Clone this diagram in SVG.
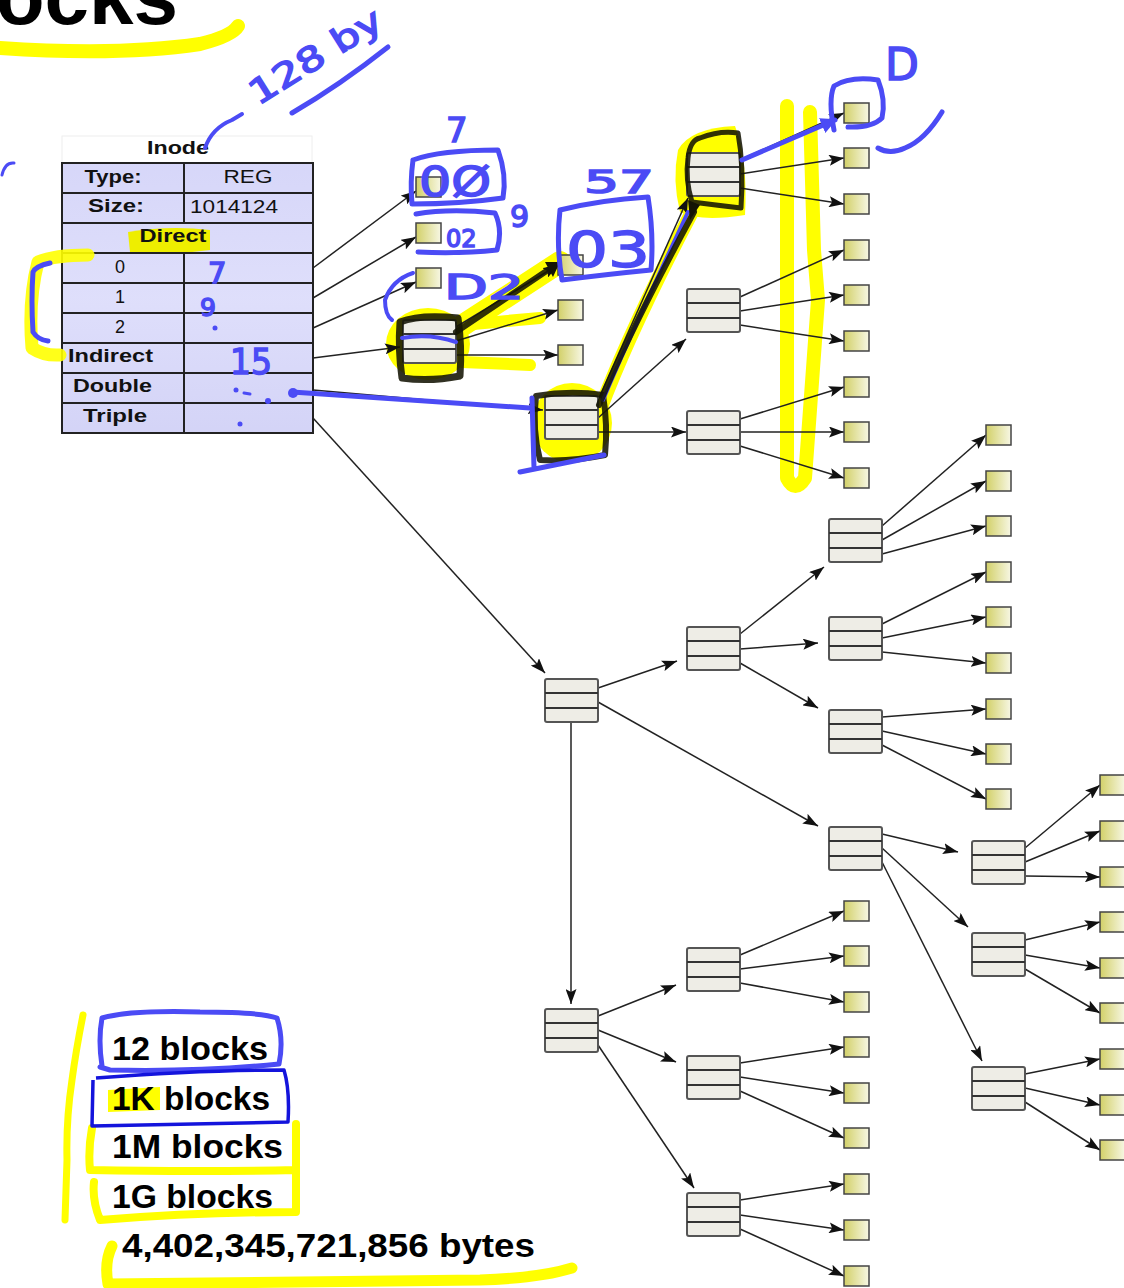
<svg xmlns="http://www.w3.org/2000/svg" width="1124" height="1288" viewBox="0 0 1124 1288">
<defs>
<linearGradient id="dg" x1="0" y1="0" x2="1" y2="0"><stop offset="0" stop-color="#d2d068"/><stop offset="1" stop-color="#f7f7e4"/></linearGradient>
<linearGradient id="ig" x1="0" y1="0" x2="0" y2="1"><stop offset="0" stop-color="#d3d3f8"/><stop offset="0.5" stop-color="#dcdcfb"/><stop offset="1" stop-color="#d0d0f6"/></linearGradient>
<marker id="ah" markerUnits="userSpaceOnUse" markerWidth="15" markerHeight="11" refX="15" refY="5.5" orient="auto"><path d="M0,0 L15,5.5 L0,11 L3,5.5 z" fill="#111"/></marker>
<marker id="bh" markerUnits="userSpaceOnUse" markerWidth="20" markerHeight="16" refX="14" refY="8" orient="auto"><path d="M0,0 L16,8 L0,16 z" fill="#4b4bf5"/></marker>
</defs>
<style>
.pb rect{fill:#eeede6;stroke:#555;stroke-width:2}
.pb path{stroke:#333;stroke-width:2;fill:none}
.db{fill:url(#dg);stroke:#444;stroke-width:1.5}
.e{stroke:#222;stroke-width:1.5;fill:none;marker-end:url(#ah)}
.it{font-family:"Liberation Sans",Arial,sans-serif;font-size:18px;fill:#111}
.b{font-weight:bold}
.bt{font-family:"Liberation Sans",Arial,sans-serif;font-weight:bold;font-size:33px;fill:#000}
.yl{fill:none;stroke:#ffff00;stroke-linecap:round;stroke-linejoin:round}
.bl{fill:none;stroke:#4b4bf5;stroke-linecap:round;stroke-linejoin:round}
.kl{fill:none;stroke:#151505;stroke-opacity:0.88;stroke-linecap:round;stroke-linejoin:round}
.hw{font-family:"DejaVu Sans",sans-serif;fill:#4b4bf5;stroke:#4b4bf5;stroke-width:1.5}
</style>
<rect width="1124" height="1288" fill="#fff"/>

<!-- title -->
<g id="title">
<path class="yl" d="M0,48 Q120,56 200,44 Q232,36 238,26" stroke-width="14"/>
<text x="178" y="24" text-anchor="end" font-family="Liberation Sans,Arial,sans-serif" font-weight="bold" font-size="80" fill="#000">Blocks</text>
</g>

<!-- inode table -->
<g id="inode">
<rect x="62" y="136" width="250" height="27" fill="#fff" stroke="#eee" stroke-width="1"/>
<text class="it b" x="178" y="154" text-anchor="middle" textLength="62" lengthAdjust="spacingAndGlyphs">Inode</text>
<rect x="62" y="163" width="251" height="270" fill="url(#ig)" fill-opacity="0.92" stroke="#222" stroke-width="2"/>
<path d="M128,232 Q170,225 210,230 L210,250 Q170,256 130,252 Z" fill="#eeee00"/>
<path d="M62,193 H313 M62,223 H313 M62,253 H313 M62,283 H313 M62,313 H313 M62,343 H313 M62,373 H313 M62,403 H313 M184,163 V223 M184,253 V433" stroke="#222" stroke-width="2" fill="none"/>
<text class="it b" x="113" y="183" text-anchor="middle" textLength="57" lengthAdjust="spacingAndGlyphs">Type:</text>
<text class="it" x="248" y="183" text-anchor="middle" textLength="49" lengthAdjust="spacingAndGlyphs">REG</text>
<text class="it b" x="116" y="212" text-anchor="middle" textLength="56" lengthAdjust="spacingAndGlyphs">Size:</text>
<text class="it" x="190" y="213" textLength="88" lengthAdjust="spacingAndGlyphs">1014124</text>
<text class="it b" x="173" y="242" text-anchor="middle" textLength="67" lengthAdjust="spacingAndGlyphs">Direct</text>
<text class="it" x="120" y="273" text-anchor="middle">0</text>
<text class="it" x="120" y="303" text-anchor="middle">1</text>
<text class="it" x="120" y="333" text-anchor="middle">2</text>
<text class="it b" x="68" y="362" textLength="85" lengthAdjust="spacingAndGlyphs">Indirect</text>
<text class="it b" x="73" y="392" textLength="79" lengthAdjust="spacingAndGlyphs">Double</text>
<text class="it b" x="83" y="422" textLength="64" lengthAdjust="spacingAndGlyphs">Triple</text>
</g>

<!-- highlights -->
<g id="highlights">
<path class="yl" d="M88,255 Q55,255 38,262 Q28,300 32,348 Q44,356 60,355" stroke-width="13" stroke-opacity="0.9"/>
<ellipse cx="428" cy="344" rx="42" ry="36" fill="#ffff00"/>
<path class="yl" d="M440,340 L560,262" stroke-width="22"/>
<path class="yl" d="M462,325 L540,318 M462,362 L530,365" stroke-width="12"/>
<ellipse cx="572" cy="423" rx="40" ry="40" fill="#ffff00"/>
<path class="yl" d="M600,410 Q630,330 692,212" stroke-width="14"/>
<path d="M678,150 Q690,128 735,126 Q748,160 745,215 Q700,222 680,212 Q672,180 678,150 Z" fill="#ffff00"/>
<path class="yl" d="M787,106 L787,478 Q795,494 805,478 L818,300 L814,250 L810,112" stroke-width="14"/>
</g>

<!-- connectors -->
<g id="connectors">
<path class="e" d="M313,268 L416,191"/>
<path class="e" d="M313,298 L416,237"/>
<path class="e" d="M313,328 L416,282"/>
<path class="e" d="M313,358 L400,347"/>
<path class="e" d="M313,390 L543,410"/>
<path class="e" d="M313,418 L545,673"/>
<path class="e" d="M456,327 L558,265"/>
<path class="e" d="M456,341 L558,310"/>
<path class="e" d="M456,355 L558,355"/>
<path class="e" d="M598,400 L688,198"/>
<path class="e" d="M598,418 L686,339"/>
<path class="e" d="M598,432 L686,432"/>
<path class="e" d="M740,160 L844,113"/>
<path class="e" d="M740,174 L844,158"/>
<path class="e" d="M740,188 L844,204"/>
<path class="e" d="M740,297 L844,250"/>
<path class="e" d="M740,311 L844,295"/>
<path class="e" d="M740,325 L844,341"/>
<path class="e" d="M740,419 L844,387"/>
<path class="e" d="M740,432 L844,432"/>
<path class="e" d="M740,446 L844,478"/>
<path class="e" d="M598,688 L677,661"/>
<path class="e" d="M598,702 L818,826"/>
<path class="e" d="M571,722 L571,1004"/>
<path class="e" d="M740,634 L824,567"/>
<path class="e" d="M740,649 L818,643"/>
<path class="e" d="M740,663 L818,708"/>
<path class="e" d="M882,526 L986,435"/>
<path class="e" d="M882,540 L986,481"/>
<path class="e" d="M882,554 L986,526"/>
<path class="e" d="M882,624 L986,572"/>
<path class="e" d="M882,638 L986,617"/>
<path class="e" d="M882,652 L986,663"/>
<path class="e" d="M882,717 L986,709"/>
<path class="e" d="M882,731 L986,754"/>
<path class="e" d="M882,745 L986,799"/>
<path class="e" d="M882,834 L958,852"/>
<path class="e" d="M882,848 L968,927"/>
<path class="e" d="M882,862 L982,1061"/>
<path class="e" d="M1025,848 L1100,785"/>
<path class="e" d="M1025,862 L1100,831"/>
<path class="e" d="M1025,876 L1100,877"/>
<path class="e" d="M1025,940 L1100,922"/>
<path class="e" d="M1025,955 L1100,968"/>
<path class="e" d="M1025,969 L1100,1013"/>
<path class="e" d="M1025,1074 L1100,1059"/>
<path class="e" d="M1025,1088 L1100,1105"/>
<path class="e" d="M1025,1102 L1100,1150"/>
<path class="e" d="M598,1016 L676,985"/>
<path class="e" d="M598,1030 L676,1062"/>
<path class="e" d="M598,1045 L694,1188"/>
<path class="e" d="M740,955 L844,911"/>
<path class="e" d="M740,969 L844,956"/>
<path class="e" d="M740,983 L844,1002"/>
<path class="e" d="M740,1063 L844,1047"/>
<path class="e" d="M740,1077 L844,1093"/>
<path class="e" d="M740,1091 L844,1138"/>
<path class="e" d="M740,1200 L844,1184"/>
<path class="e" d="M740,1215 L844,1230"/>
<path class="e" d="M740,1229 L844,1276"/>
</g>

<!-- pointer blocks -->
<g id="ind" class="pb"><rect x="403" y="320" width="53" height="43" rx="2"/><path d="M403,334 h53 M403,349 h53"/></g>
<g id="dbl" class="pb"><rect x="545" y="396" width="53" height="43" rx="2"/><path d="M545,410 h53 M545,425 h53"/></g>
<g id="t1" class="pb"><rect x="687" y="153" width="53" height="43" rx="2"/><path d="M687,167 h53 M687,182 h53"/></g>
<g id="t2" class="pb"><rect x="687" y="289" width="53" height="43" rx="2"/><path d="M687,303 h53 M687,318 h53"/></g>
<g id="t3" class="pb"><rect x="687" y="411" width="53" height="43" rx="2"/><path d="M687,425 h53 M687,440 h53"/></g>
<g id="tri" class="pb"><rect x="545" y="679" width="53" height="43" rx="2"/><path d="M545,693 h53 M545,708 h53"/></g>
<g id="a" class="pb"><rect x="687" y="627" width="53" height="43" rx="2"/><path d="M687,641 h53 M687,656 h53"/></g>
<g id="a1" class="pb"><rect x="829" y="519" width="53" height="43" rx="2"/><path d="M829,533 h53 M829,548 h53"/></g>
<g id="a2" class="pb"><rect x="829" y="617" width="53" height="43" rx="2"/><path d="M829,631 h53 M829,646 h53"/></g>
<g id="a3" class="pb"><rect x="829" y="710" width="53" height="43" rx="2"/><path d="M829,724 h53 M829,739 h53"/></g>
<g id="b" class="pb"><rect x="829" y="827" width="53" height="43" rx="2"/><path d="M829,841 h53 M829,856 h53"/></g>
<g id="b1" class="pb"><rect x="972" y="841" width="53" height="43" rx="2"/><path d="M972,855 h53 M972,870 h53"/></g>
<g id="b2" class="pb"><rect x="972" y="933" width="53" height="43" rx="2"/><path d="M972,947 h53 M972,962 h53"/></g>
<g id="b3" class="pb"><rect x="972" y="1067" width="53" height="43" rx="2"/><path d="M972,1081 h53 M972,1096 h53"/></g>
<g id="c" class="pb"><rect x="545" y="1009" width="53" height="43" rx="2"/><path d="M545,1023 h53 M545,1038 h53"/></g>
<g id="c1" class="pb"><rect x="687" y="948" width="53" height="43" rx="2"/><path d="M687,962 h53 M687,977 h53"/></g>
<g id="c2" class="pb"><rect x="687" y="1056" width="53" height="43" rx="2"/><path d="M687,1070 h53 M687,1085 h53"/></g>
<g id="c3" class="pb"><rect x="687" y="1193" width="53" height="43" rx="2"/><path d="M687,1207 h53 M687,1222 h53"/></g>

<!-- data blocks -->
<g id="data-direct"><rect class="db" x="416" y="177" width="25" height="20"/><rect class="db" x="416" y="223" width="25" height="20"/><rect class="db" x="416" y="268" width="25" height="20"/></g>
<g id="data-ind"><rect class="db" x="558" y="255" width="25" height="20"/><rect class="db" x="558" y="300" width="25" height="20"/><rect class="db" x="558" y="345" width="25" height="20"/></g>
<g id="data-t"><rect class="db" x="844" y="103" width="25" height="20"/><rect class="db" x="844" y="148" width="25" height="20"/><rect class="db" x="844" y="194" width="25" height="20"/><rect class="db" x="844" y="240" width="25" height="20"/><rect class="db" x="844" y="285" width="25" height="20"/><rect class="db" x="844" y="331" width="25" height="20"/><rect class="db" x="844" y="377" width="25" height="20"/><rect class="db" x="844" y="422" width="25" height="20"/><rect class="db" x="844" y="468" width="25" height="20"/></g>
<g id="data-a"><rect class="db" x="986" y="425" width="25" height="20"/><rect class="db" x="986" y="471" width="25" height="20"/><rect class="db" x="986" y="516" width="25" height="20"/><rect class="db" x="986" y="562" width="25" height="20"/><rect class="db" x="986" y="607" width="25" height="20"/><rect class="db" x="986" y="653" width="25" height="20"/><rect class="db" x="986" y="699" width="25" height="20"/><rect class="db" x="986" y="744" width="25" height="20"/><rect class="db" x="986" y="789" width="25" height="20"/></g>
<g id="data-b"><rect class="db" x="1100" y="775" width="25" height="20"/><rect class="db" x="1100" y="821" width="25" height="20"/><rect class="db" x="1100" y="867" width="25" height="20"/><rect class="db" x="1100" y="912" width="25" height="20"/><rect class="db" x="1100" y="958" width="25" height="20"/><rect class="db" x="1100" y="1003" width="25" height="20"/><rect class="db" x="1100" y="1049" width="25" height="20"/><rect class="db" x="1100" y="1095" width="25" height="20"/><rect class="db" x="1100" y="1140" width="25" height="20"/></g>
<g id="data-c"><rect class="db" x="844" y="901" width="25" height="20"/><rect class="db" x="844" y="946" width="25" height="20"/><rect class="db" x="844" y="992" width="25" height="20"/><rect class="db" x="844" y="1037" width="25" height="20"/><rect class="db" x="844" y="1083" width="25" height="20"/><rect class="db" x="844" y="1128" width="25" height="20"/><rect class="db" x="844" y="1174" width="25" height="20"/><rect class="db" x="844" y="1220" width="25" height="20"/><rect class="db" x="844" y="1266" width="25" height="20"/></g>

<!-- bottom summary -->
<g id="summary">
<path class="yl" d="M83,1015 Q76,1050 72,1080 Q66,1120 67,1160 Q66,1190 65,1220" stroke-width="7"/>
<path d="M108,1090 L160,1087 L160,1110 L108,1112 Z" fill="#ffff00"/>
<path class="yl" d="M92,1128 Q88,1150 90,1170 Q200,1172 296,1170 M296,1124 L296,1212 Q200,1212 100,1220 Q92,1200 94,1182" stroke-width="8"/>
<path class="yl" d="M112,1246 Q104,1262 108,1284 Q300,1282 480,1280 Q540,1278 572,1268" stroke-width="11"/>
<text class="bt" x="112" y="1060" textLength="156" lengthAdjust="spacingAndGlyphs">12 blocks</text>
<text class="bt" x="112" y="1110" textLength="158" lengthAdjust="spacingAndGlyphs">1K blocks</text>
<text class="bt" x="112" y="1158" textLength="171" lengthAdjust="spacingAndGlyphs">1M blocks</text>
<text class="bt" x="112" y="1208" textLength="161" lengthAdjust="spacingAndGlyphs">1G blocks</text>
<text class="bt" x="122" y="1257" textLength="413" lengthAdjust="spacingAndGlyphs">4,402,345,721,856 bytes</text>
<path class="bl" d="M102,1066 Q98,1040 102,1018 Q130,1010 200,1012 Q260,1012 277,1018 Q284,1040 279,1064 Q200,1072 110,1070 L100,1067" stroke-width="5"/>
<path d="M93,1080 L92,1126 Q200,1124 288,1122 Q290,1090 284,1070 Q200,1070 96,1078" fill="none" stroke="#1414dc" stroke-width="3.5" stroke-linejoin="round"/>
</g>

<!-- ink annotations -->
<g id="annotations">
<path class="kl" d="M400,322 Q420,314 458,318 Q462,345 460,376 Q430,382 402,378 Q398,350 400,322 Z" stroke-width="7"/>
<path class="kl" d="M456,332 L548,270" stroke-width="6"/>
<path d="M545,262 L560,262 L553,277 Z" fill="#151505"/>
<path class="kl" d="M536,396 Q570,390 603,395 Q608,425 605,455 Q570,462 540,460 Q532,430 536,396 Z" stroke-width="6"/>
<path class="bl" d="M402,338 Q430,333 456,342" stroke-width="4"/>
<path class="bl" d="M603,400 Q628,340 688,212" stroke-width="4"/>
<path class="kl" d="M599,405 Q630,330 694,212" stroke-width="6"/>
<path d="M688,200 L700,205 L690,220 Z" fill="#151505"/>
<path class="kl" d="M688,158 Q690,140 700,138 Q720,130 738,133 Q744,165 741,208 Q715,205 692,202 Q685,180 688,158 Z" stroke-width="5"/>
<path class="bl" d="M742,160 L835,120" stroke-width="5" marker-end="url(#bh)"/>
<path class="bl" d="M834,130 Q828,100 834,86 Q850,76 878,80 Q886,100 882,118 Q872,128 848,127" stroke-width="5"/>
<path class="bl" d="M878,148 Q890,155 905,148 Q925,140 942,112" stroke-width="5"/>
<path class="bl" d="M292,392 L530,408" stroke-width="5"/>
<circle cx="293" cy="393" r="5" fill="#4b4bf5"/>
<path class="bl" d="M532,398 L534,468 M520,472 Q560,464 604,455" stroke-width="5"/>
<path class="bl" d="M205,148 Q212,128 232,120 L242,114" stroke-width="4"/>
<path class="bl" d="M292,113 Q340,85 388,47" stroke-width="5"/>
<path class="bl" d="M2,175 Q5,162 14,163" stroke-width="3"/>
<path class="bl" d="M50,263 Q36,266 33,272 Q31,300 33,332 Q38,340 48,341" stroke-width="5"/>
<path class="bl" d="M413,160 Q440,150 498,150 Q507,175 503,198 Q460,204 412,204 Q410,182 413,160" stroke-width="5"/>
<path class="bl" d="M416,214 Q450,208 495,213 Q503,230 497,250 Q460,254 418,252" stroke-width="5"/>
<path class="bl" d="M560,210 Q600,200 648,197 Q654,235 651,270 Q610,274 562,280 Q556,245 560,210" stroke-width="5"/>
<path class="bl" d="M413,273 Q392,280 385,300 Q385,315 392,320" stroke-width="4"/>
<text class="hw" x="258" y="106" font-size="34" transform="rotate(-32 258 106)" textLength="150" lengthAdjust="spacingAndGlyphs">128 by</text>
<text class="hw" x="446" y="142" font-size="34">7</text>
<text class="hw" x="419" y="196" font-size="40" textLength="72" lengthAdjust="spacingAndGlyphs">0Ø</text>
<text class="hw" x="446" y="247" font-size="24">02</text>
<text class="hw" x="510" y="227" font-size="30">9</text>
<text class="hw" x="444" y="299" font-size="34" textLength="80" lengthAdjust="spacingAndGlyphs">D2</text>
<text class="hw" x="584" y="193" font-size="32" textLength="70" lengthAdjust="spacingAndGlyphs">57</text>
<text class="hw" x="566" y="267" font-size="50" textLength="84" lengthAdjust="spacingAndGlyphs">03</text>
<text class="hw" x="885" y="80" font-size="44">D</text>
<text class="hw" x="208" y="283" font-size="29">7</text>
<text class="hw" x="200" y="316" font-size="25">9</text>
<text class="hw" x="230" y="374" font-size="36" textLength="42" lengthAdjust="spacingAndGlyphs">15</text>
<circle cx="215" cy="328" r="2.5" fill="#4b4bf5"/>
<circle cx="236" cy="390" r="2.5" fill="#4b4bf5"/>
<path class="bl" d="M244,393 L250,394" stroke-width="3"/>
<circle cx="268" cy="401" r="3" fill="#4b4bf5"/>
<circle cx="240" cy="424" r="2.5" fill="#4b4bf5"/>
</g>
</svg>
